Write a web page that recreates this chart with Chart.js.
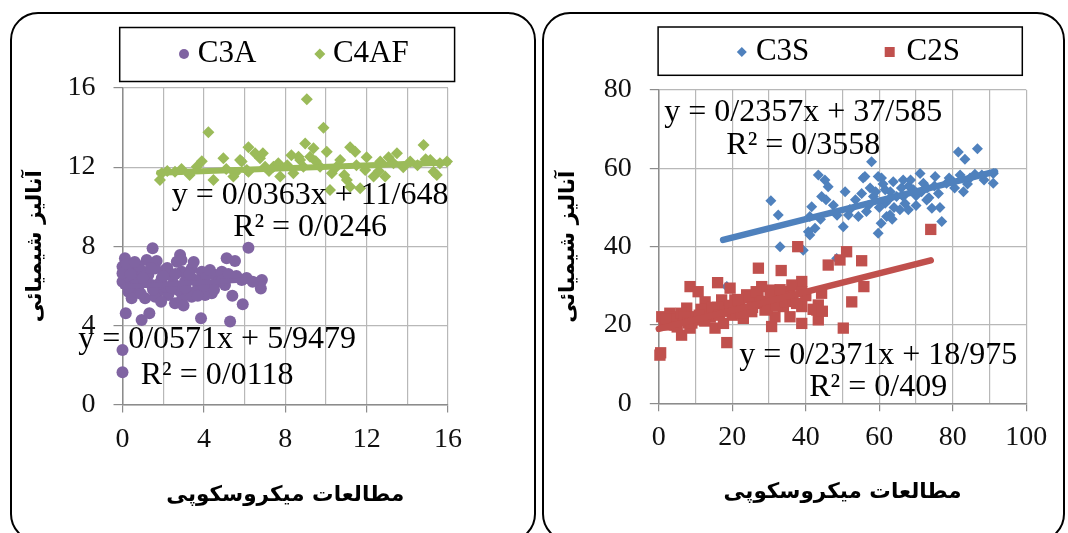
<!DOCTYPE html>
<html>
<head>
<meta charset="utf-8">
<script src="https://cdn.jsdelivr.net/npm/chart.js@4.4.1/dist/chart.umd.min.js"></script>
<style>
  body { margin: 0; background: #fff; width: 1068px; height: 533px; overflow: hidden; position: relative; }
  .panel { position: absolute; border: 2px solid #000; border-radius: 28px; box-sizing: border-box; }
  #p1 { left: 10px; top: 12px; width: 526px; height: 530px; }
  #p2 { left: 542px; top: 12px; width: 523px; height: 530px; }
  canvas { position: absolute; top: 0; }
  #c1 { left: 0; }
  #c2 { left: 540px; }
</style>
</head>
<body>
<div class="panel" id="p1"></div>
<div class="panel" id="p2"></div>
<canvas id="c1" width="540" height="533"></canvas>
<canvas id="c2" width="528" height="533"></canvas>
<script>
// ── labels ──
const yTitle = 'آنالیز شیمیائی';
const xTitle = 'مطالعات میکروسکوپی';

// ── left panel: C3A / C4AF ──
const c3aX = [1.48, 6.19, 0.12, 1.19, 1.68, 2.83, 2.67, 5.12, 5.53, 0, 0.53, 2.09, 3.4, 3.9, 4.55, 0, 0.37, 1.27, 1.43, 2.5,
  3.07, 3.73, 5.04, 5.86, 6.8, 6.85, 0.29, 0.78, 1.76, 2.25, 2.91, 3.57, 4.39, 5.4, 0.45, 1.11, 2.58, 5.91, 0.16, 0.94,
  1.32, 3.86, 5.29, 0, 0, 0.61, 1.02, 1.93, 2.34, 3.24, 4.06, 4.71, 1.6, 2.91, 3.57, 4.22, 2.09, 0.61, 1.11, 3.4,
  1.6, 4.06, 0, 4.88, 2.91, 0.2, 0.8, 0.4, 1.0, 1.4, 1.8, 2.2, 2.6, 2.7, 3.1, 3.3, 3.7, 4.3, 4.5, 4.9,
  5.2, 5.6, 6.1, 6.4, 0.9, 1.9, 2.4, 3.0, 0.3, 1.5, 2.0, 4.0, 3.5, 2.9, 0.6];
const c3aY = [7.9, 7.93, 7.39, 7.31, 7.26, 7.56, 7.22, 7.39, 7.25, 6.97, 6.88, 6.8, 6.88, 6.71, 6.55, 6.21, 6.38, 6.55, 6.04, 6.13,
  6.21, 6.04, 6.04, 6.29, 5.87, 6.29, 5.7, 5.79, 5.7, 5.54, 5.62, 5.7, 5.62, 5.5, 5.37, 5.37, 5.12, 5.07, 4.61, 4.27,
  4.61, 4.36, 4.19, 2.76, 1.63, 6.55, 6.71, 6.38, 6.55, 6.46, 6.38, 6.21, 6.88, 6.71, 6.29, 5.96, 5.96, 6.04, 6.21, 5.45,
  5.45, 5.54, 6.63, 6.71, 5.28, 7.1, 7.0, 6.6, 6.4, 6.9, 6.1, 6.9, 6.6, 5.8, 5.9, 6.6, 5.5, 6.8, 5.8, 6.3,
  6.6, 6.5, 6.4, 6.2, 5.6, 5.2, 5.9, 5.0, 5.9, 5.8, 6.5, 6.0, 7.2, 7.3, 7.2];
const c4afX = [4.22, 9.06, 9.88, 8.98, 9.39, 6.19, 6.52, 11.19, 11.44, 14.8, 13.49, 13.08, 10.04, 4.96, 6.76, 3.65, 1.84, 1.93, 4.47, 5.78,
  7.42, 8.4, 8.73, 10.2, 11.03, 11.68, 12.34, 12.91, 15.13, 15.45, 13.32, 10.7, 7.75, 6.11, 5.45, 5.86, 7.01, 7.66, 8.65, 2.58,
  5.53, 6.19, 9.71, 10.29, 11.93, 12.67, 14.14, 8.89, 9.22, 15.95, 15.29, 11.19, 2.9, 3.3, 2.2, 3.9, 5.1, 6.9, 7.2, 8.1,
  8.3, 9.5, 10.5, 11.5, 12.0, 13.8, 14.5, 14.9, 15.6, 10.9, 12.6];
const c4afY = [13.76, 15.43, 13.99, 13.2, 12.95, 13.0, 12.7, 13.0, 12.78, 13.12, 12.7, 12.5, 12.78, 12.45, 12.45, 12.02, 11.35, 11.69, 11.35, 12.36,
  12.02, 11.69, 12.36, 10.84, 11.35, 10.93, 11.52, 11.52, 12.36, 11.6, 12.19, 12.36, 11.52, 11.86, 11.52, 12.28, 12.02, 12.19, 12.53, 11.77,
  11.69, 11.77, 12.02, 11.69, 11.86, 12.28, 12.28, 12.02, 12.53, 12.28, 11.77, 11.01, 11.9, 11.6, 11.8, 12.3, 11.9, 12.7, 11.8, 12.1,
  12.6, 12.3, 12.0, 12.1, 12.5, 12.0, 12.1, 12.4, 12.2, 11.6, 11.8];
const c3aTrendX = [0, 7.0];
const c3aTrendY = [5.95, 6.35];
const c4afTrendX = [1.8, 16];
const c4afTrendY = [11.71, 12.23];

// ── right panel: C3S / C2S ──
const c3sX = [30.5, 32.5, 33.0, 39.3, 43.4, 45.2, 46.1, 44.3, 41.6, 41.1, 42.5, 41.1, 40.7, 50.7, 50.2, 47.5, 51.6, 55.2, 55.6, 54.3,
  18.5, 57.9, 81.5, 83.3, 86.7, 56.1, 59.7, 61.6, 63.8, 66.5, 71.1, 75.2, 78.3, 82.0, 84.7, 91.0, 82.9, 91.0, 58.4, 61.6,
  62.0, 65.6, 67.9, 59.7, 72.9, 74.3, 77.0, 69.3, 64.7, 72.0, 76.1, 80.1, 87.9, 66.5, 62.9, 48.4, 60.6, 68.0, 70.0, 73.0,
  60.0, 57.0, 63.0, 57.5, 59.0, 61.0, 62.5, 64.0, 66.0, 67.0, 68.5, 70.0, 71.5, 73.5, 75.0, 76.5, 79.0, 80.5, 84.0, 86.0,
  88.5, 52.0, 53.5, 56.5, 60.5, 63.5, 45.5, 48.5, 44.0];
const c3sY = [51.7, 48.1, 40.0, 39.1, 58.3, 57.0, 55.3, 52.8, 50.2, 47.7, 44.7, 43.0, 43.8, 54.0, 45.1, 50.6, 48.1, 53.6, 57.5, 47.7,
  29.8, 61.7, 64.2, 62.3, 65.0, 57.9, 57.9, 54.5, 56.6, 57.0, 58.7, 57.9, 56.2, 58.3, 57.5, 56.2, 54.0, 58.7, 52.8, 51.1,
  47.7, 49.4, 49.4, 43.4, 51.9, 49.8, 46.4, 54.5, 52.8, 56.2, 53.6, 56.6, 58.3, 52.8, 48.1, 37.0, 57.5, 55.5, 53.0, 55.0,
  50.0, 50.5, 54.0, 55.0, 54.0, 56.0, 52.0, 50.0, 55.0, 51.0, 57.0, 50.5, 54.0, 52.5, 55.5, 50.0, 57.5, 55.0, 56.0, 58.5,
  57.0, 49.5, 52.0, 49.0, 46.0, 47.0, 52.0, 48.0, 47.0];
const c2sX = [0.3, 0.5, 18.5, 8.5, 10.7, 16.0, 27.1, 33.3, 37.8, 38.9, 46.1, 49.3, 51.1, 52.5, 50.2, 43.4, 38.9, 30.7, 43.4, 44.3,
  38.9, 0.8, 3.0, 4.4, 6.2, 8.5, 10.7, 13.5, 15.3, 17.6, 18.9, 20.7, 23.0, 23.9, 26.2, 28.0, 30.3, 32.5, 33.9, 35.7,
  35.7, 36.2, 38.9, 7.6, 5.8, 12.6, 17.1, 21.2, 9.9, 2.1, 4.4, 25.3, 28.9, 31.6, 19.4, 74.0, 55.2, 55.8, 43.0, 1.5,
  3.5, 6.0, 9.0, 11.5, 14.0, 16.0, 20.0, 22.0, 24.0, 27.0, 29.0, 31.0, 34.0, 2.0, 5.0, 7.0, 8.0, 11.0, 12.5, 14.5,
  16.5, 18.0, 19.5, 21.5, 22.5, 24.5, 25.5, 26.5, 28.0, 29.5, 30.5, 32.0, 33.0, 34.5, 36.5, 37.5, 40.0, 42.0, 44.5];
const c2sY = [12.3, 12.9, 15.5, 29.8, 28.5, 30.8, 34.5, 33.9, 40.0, 31.1, 35.3, 36.6, 38.7, 25.9, 19.2, 21.3, 20.4, 19.6, 25.1, 28.1,
  24.7, 22.1, 23.0, 20.0, 17.4, 19.2, 21.3, 23.4, 19.2, 20.4, 24.3, 26.4, 21.7, 27.7, 25.5, 29.8, 28.9, 27.2, 24.7, 22.1,
  28.5, 30.2, 28.5, 24.3, 21.3, 25.9, 26.4, 23.4, 22.1, 20.0, 22.1, 23.4, 23.8, 22.1, 29.4, 44.4, 36.4, 29.8, 23.8, 21.0,
  21.5, 23.0, 20.5, 24.0, 22.0, 24.5, 22.5, 25.0, 24.0, 27.0, 26.0, 25.5, 27.0, 21.5, 19.5, 22.0, 20.5, 22.5, 21.0, 24.5,
  22.5, 23.5, 25.0, 26.5, 23.0, 27.0, 24.5, 28.5, 26.0, 24.0, 27.5, 25.0, 29.0, 26.0, 26.5, 25.5, 27.5, 24.0, 23.5];
const c3sTrendX = [17.5, 91.5];
const c3sTrendY = [41.71, 59.15];
const c2sTrendX = [0, 74];
const c2sTrendY = [18.98, 36.52];

// ── helpers ──
const serif = "'Liberation Serif', 'Times New Roman', serif";
const arabic = "'DejaVu Sans', sans-serif";
const GRID = '#b8b8b8';
const AXIS = '#8c8c8c';

function pts(xs, ys) { return xs.map((x, i) => ({ x, y: ys[i] })); }

function drawMarker(ctx, style, x, y, r, color) {
  ctx.fillStyle = color;
  ctx.beginPath();
  if (style === 'circle') ctx.arc(x, y, r, 0, Math.PI * 2);
  else if (style === 'rectRot') { ctx.moveTo(x, y - r); ctx.lineTo(x + r, y); ctx.lineTo(x, y + r); ctx.lineTo(x - r, y); ctx.closePath(); }
  else ctx.rect(x - r, y - r, r * 2, r * 2);
  ctx.fill();
}

// legend with a frame, drawn from the datasets' own styles
const boxLegend = {
  id: 'boxLegend',
  afterDraw(chart, args, opts) {
    const ctx = chart.ctx;
    ctx.save();
    ctx.strokeStyle = '#000';
    ctx.lineWidth = 1.5;
    ctx.strokeRect(...opts.box);
    ctx.font = '31px ' + serif;
    ctx.textBaseline = 'middle';
    opts.items.forEach(it => {
      const ds = chart.data.datasets[it.ds];
      drawMarker(ctx, ds.pointStyle, it.mx, it.y, it.r, ds.backgroundColor);
      ctx.fillStyle = '#000';
      ctx.fillText(ds.label, it.tx, it.y);
    });
    ctx.restore();
  }
};

// trendline equations
const trendText = {
  id: 'trendText',
  afterDatasetsDraw(chart, args, opts) {
    const { ctx, scales: { x, y } } = chart;
    ctx.save();
    ctx.font = '32px ' + serif;
    ctx.textAlign = 'center';
    ctx.textBaseline = 'middle';
    ctx.fillStyle = '#000';
    opts.labels.forEach(l => {
      const px = x.getPixelForValue(l.at[0]);
      const py = y.getPixelForValue(l.at[1]);
      ctx.fillText(l.eq, px, py);
      ctx.fillText(l.r2, px, py + l.gap);
    });
    ctx.restore();
  }
};

function scatterSet(label, xs, ys, color, style, r, order) {
  return { label, data: pts(xs, ys), backgroundColor: color, borderColor: color, pointStyle: style,
    pointRadius: r, pointBorderWidth: 0, pointHoverRadius: r, order, clip: false };
}
function trendSet(xs, ys, color, w) {
  return { label: '', data: pts(xs, ys), showLine: true, borderColor: color, borderWidth: w,
    borderCapStyle: 'round', pointRadius: 0, pointHoverRadius: 0, order: 0, clip: false };
}

function makeScales(p) {
  return {
    x: {
      type: 'linear', min: p.xMin, max: p.xMax,
      ticks: { stepSize: p.xStep, autoSkip: false, maxRotation: 0, padding: 10, color: '#111',
        font: { family: serif, size: 28 }, callback: v => (v % p.xMajor === 0 ? v : '') },
      grid: { color: GRID, lineWidth: 1.2, tickLength: 8,
        tickColor: c => (c.tick && c.tick.value % p.xMajor === 0 ? AXIS : 'rgba(0,0,0,0)') },
      border: { color: AXIS, width: 1.5 },
      title: { display: true, text: xTitle, color: '#000', font: { family: arabic, size: 21.5, weight: 'bold' },
        padding: { top: 0, bottom: p.xTitlePad } },
      afterFit: s => { s.height = p.xH; }
    },
    y: {
      type: 'linear', min: p.yMin, max: p.yMax,
      ticks: { stepSize: p.yStep, padding: 18, color: '#111', font: { family: serif, size: 28 } },
      grid: { color: GRID, lineWidth: 1.2, tickLength: 9, tickColor: AXIS },
      border: { color: AXIS, width: 1.5 },
      title: { display: true, text: yTitle, color: '#000', font: { family: arabic, size: 21.5, weight: 'bold' },
        padding: { top: p.yTitlePad, bottom: 0 } },
      afterFit: s => { s.width = p.yW; }
    }
  };
}

const common = { responsive: false, animation: false, events: [] };

new Chart(document.getElementById('c1'), {
  type: 'scatter',
  data: {
    datasets: [
      trendSet(c3aTrendX, c3aTrendY, '#8064A2', 5),
      trendSet(c4afTrendX, c4afTrendY, '#9BBB59', 6),
      scatterSet('C3A', c3aX, c3aY, '#8064A2', 'circle', 6, 1),
      scatterSet('C4AF', c4afX, c4afY, '#9BBB59', 'rectRot', 6, 1)
    ]
  },
  options: {
    ...common,
    layout: { padding: { top: 88, right: 92, bottom: 0, left: 0 } },
    scales: makeScales({ xMin: 0, xMax: 16, xStep: 2, xMajor: 4, yMin: 0, yMax: 16, yStep: 4,
      xH: 128.5, yW: 122.5, xTitlePad: 25, yTitlePad: 23 }),
    plugins: {
      legend: { display: false }, tooltip: { enabled: false },
      boxLegend: { box: [119.7, 27.5, 334.9, 54],
        items: [{ ds: 2, mx: 184, tx: 197.7, y: 54, r: 5 }, { ds: 3, mx: 319.8, tx: 332.9, y: 54, r: 5.5 }] },
      trendText: { labels: [
        { eq: 'y = 0/0363x + 11/648', r2: 'R² = 0/0246', at: [9.22, 10.54], gap: 32 },
        { eq: 'y = 0/0571x + 5/9479', r2: 'R² = 0/0118', at: [4.65, 3.26], gap: 36 }
      ] }
    }
  },
  plugins: [boxLegend, trendText]
});

new Chart(document.getElementById('c2'), {
  type: 'scatter',
  data: {
    datasets: [
      trendSet(c3sTrendX, c3sTrendY, '#4F81BD', 6.5),
      trendSet(c2sTrendX, c2sTrendY, '#C0504D', 6.5),
      scatterSet('C3S', c3sX, c3sY, '#4F81BD', 'rectRot', 5.5, 2),
      scatterSet('C2S', c2sX, c2sY, '#C0504D', 'rect', 8, 1)
    ]
  },
  options: {
    ...common,
    layout: { padding: { top: 90, right: 41.7, bottom: 0, left: 0 } },
    scales: makeScales({ xMin: 0, xMax: 100, xStep: 10, xMajor: 20, yMin: 0, yMax: 80, yStep: 20,
      xH: 129.7, yW: 118.8, xTitlePad: 28, yTitlePad: 15.7 }),
    plugins: {
      legend: { display: false }, tooltip: { enabled: false },
      boxLegend: { box: [118.1, 27, 364.2, 48.3],
        items: [{ ds: 2, mx: 201.8, tx: 215.9, y: 52, r: 5 }, { ds: 3, mx: 349.7, tx: 366.5, y: 52, r: 5 }] },
      trendText: { labels: [
        { eq: 'y = 0/2357x + 37/585', r2: 'R² = 0/3558', at: [39.3, 74.3], gap: 33 },
        { eq: 'y = 0/2371x + 18/975', r2: 'R² = 0/409', at: [59.7, 12.1], gap: 32 }
      ] }
    }
  },
  plugins: [boxLegend, trendText]
});
</script>
</body>
</html>
